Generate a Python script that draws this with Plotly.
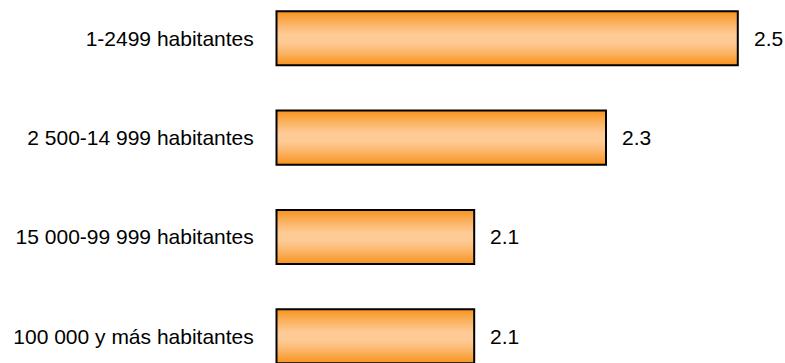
import plotly.graph_objects as go

# Population-size groups and their values
categories = [
    "1-2499 habitantes",
    "2 500-14 999 habitantes",
    "15 000-99 999 habitantes",
    "100 000 y más habitantes",
]
values = [2.5, 2.3, 2.1, 2.1]
value_labels = ["2.5", "2.3", "2.1", "2.1"]

AXIS_START = 1.8          # value axis begins here
BAR_WIDTH = 0.545         # bar thickness in category units
DARK = (247, 148, 30)     # orange at the bar edges
LIGHT = (254, 202, 150)   # pale peach in the middle of the bar
FONT = "Liberation Sans, Arial, sans-serif"
N_LAYERS = 24


def shade(s):
    """Colour at normalised distance s from the bar centreline (0 centre, 1 edge)."""
    f = min(max((s - 0.15) / 0.85, 0.0), 1.0) ** 1.2
    r, g, b = (round(LIGHT[i] + (DARK[i] - LIGHT[i]) * f) for i in range(3))
    return f"rgb({r},{g},{b})"


lengths = [v - AXIS_START for v in values]
fig = go.Figure()

# Vertical gradient: stacked bars of shrinking thickness, lighter towards the centre
for k in range(N_LAYERS):
    s = 1 - k / N_LAYERS
    fig.add_trace(go.Bar(
        y=categories, x=lengths, base=AXIS_START, orientation="h",
        width=BAR_WIDTH * s,
        marker=dict(color=shade(s), line=dict(width=0)),
        hoverinfo="skip", showlegend=False,
    ))

# Black outline on top
fig.add_trace(go.Bar(
    y=categories, x=lengths, base=AXIS_START, orientation="h",
    width=BAR_WIDTH,
    marker=dict(color="rgba(0,0,0,0)", line=dict(color="black", width=2)),
    showlegend=False,
))

for cat, v, lab in zip(categories, values, value_labels):
    fig.add_annotation(
        x=v, y=cat, text=lab, showarrow=False,
        xanchor="left", yanchor="middle", xshift=14,
        font=dict(family=FONT, size=21, color="black"),
    )

fig.update_layout(
    width=785, height=363,
    margin=dict(l=260, r=0, t=0, b=0),
    paper_bgcolor="white", plot_bgcolor="white",
    barmode="overlay",
    xaxis=dict(range=[AXIS_START - 16.5 / 659, AXIS_START + 508.5 / 659],
               visible=False, fixedrange=True),
    yaxis=dict(type="category", range=[3.2688, -0.3856],
               showgrid=False, showline=False, zeroline=False,
               ticks="outside", ticklen=1, tickcolor="rgba(0,0,0,0)",
               tickfont=dict(family=FONT, size=21, color="black")),
)

fig.write_html("out.html")
